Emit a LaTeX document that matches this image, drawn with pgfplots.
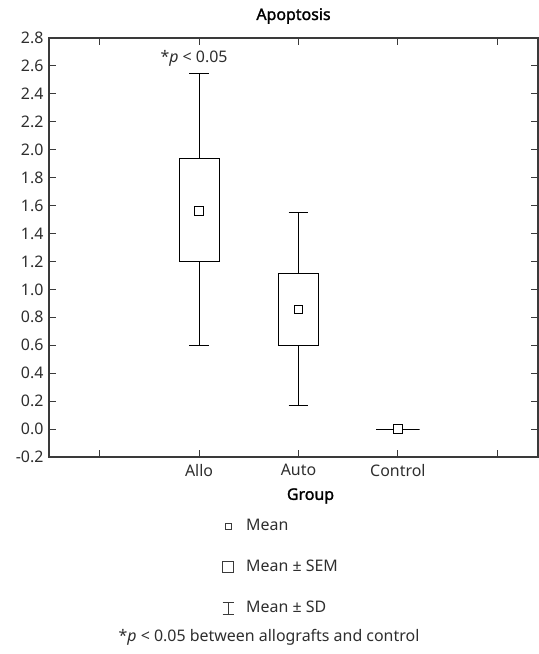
\documentclass[border=0pt]{standalone}
\usepackage{pgfplots}
\pgfplotsset{compat=1.18}
\usepgfplotslibrary{statistics}
\usepackage{fontspec}
\setmainfont{Noto Sans}[AutoFakeBold=1.6]
\definecolor{fr}{HTML}{3A3A3A}
\definecolor{tx}{HTML}{2E2E2E}
\begin{document}
\begin{tikzpicture}[x=1bp,y=1bp,font=\fontsize{16}{19}\selectfont]
\useasboundingbox (-49,-197) rectangle (489.5,457);
\begin{axis}[
  at={(0,0)}, anchor=south west,
  scale only axis, width=489bp, height=419bp,
  xmin=-0.51, xmax=4.41, ymin=-0.2, ymax=2.8,
  xtick={0,1,2,3,4}, xticklabels={,Allo,Auto,Control,},
  ytick={-0.2,0,0.2,0.4,0.6,0.8,1.0,1.2,1.4,1.6,1.8,2.0,2.2,2.4,2.6,2.8},
  yticklabel={\pgfmathprintnumber[fixed,fixed zerofill,precision=1]{\tick}},
  /pgf/number format/assume math mode=true,
  tick align=inside, major tick length=7bp,
  xtick pos=both, ytick pos=both,
  xticklabel pos=lower, yticklabel pos=left,
  axis line style={fr, line width=1.1pt},
  tick style={fr, line width=1pt},
  ticklabel style={text=tx},
  xticklabel style={yshift=-4bp},
  yticklabel style={xshift=-2bp},
  title={\textbf{Apoptosis}},
  title style={at={(0.5,1)}, anchor=center, yshift=16bp, text=black},
  xlabel={\textbf{Group}},
  xlabel style={at={(0.5,0)}, anchor=center, yshift=-39bp, xshift=17bp, text=black},
  clip=false,
  boxplot/draw direction=y,
  boxplot/draw/median/.code={},
  legend style={at={(0.354,-0.148)}, anchor=north west, draw=none, fill=none,
     inner sep=0pt, outer sep=0pt,
     nodes={inner sep=0pt, anchor=west, text height=11bp, text depth=3bp, text=tx},
     column sep=-1bp, row sep=27bp},
  legend cell align=left,
]
\addlegendimage{legend image code/.code={\path[draw=none,fill=none] (0,-6bp) rectangle (12bp,6bp);
   \draw[fr, line width=0.8pt, fill=none] (3bp,-3bp) rectangle (9bp,3bp);}}
\addlegendimage{legend image code/.code={\path[draw=none,fill=none] (0,-6bp) rectangle (12bp,6bp);
   \draw[fr, line width=0.8pt, fill=none] (0.5bp,-5.5bp) rectangle (11.5bp,5.5bp);}}
\addlegendimage{legend image code/.code={\path[draw=none,fill=none] (0,-6bp) rectangle (12bp,6bp);
   \draw[fr, line width=0.8pt] (0.5bp,-6bp) -- (11.5bp,-6bp) (6bp,-6bp) -- (6bp,6bp) (0.5bp,6bp) -- (11.5bp,6bp);}}
\legend{\hspace*{13bp}Mean, \hspace*{13bp}Mean ± SEM, \hspace*{13bp}Mean ± SD}
\addplot[forget plot, draw=black, line width=0.9pt, boxplot prepared={draw position=1,
  lower whisker=0.60, lower quartile=1.20, median=1.56, upper quartile=1.935, upper whisker=2.545,
  box extend=0.4, whisker extend=0.2}] coordinates {};
\addplot[forget plot, draw=black, line width=0.9pt, boxplot prepared={draw position=2,
  lower whisker=0.171, lower quartile=0.60, median=0.857, upper quartile=1.114, upper whisker=1.548,
  box extend=0.4, whisker extend=0.2}] coordinates {};
\addplot[forget plot, draw=black, line width=0.9pt, boxplot prepared={draw position=3,
  lower whisker=0, lower quartile=0, median=0, upper quartile=0, upper whisker=0,
  box extend=0.44, whisker extend=0.2}] coordinates {};
\addplot[forget plot, only marks, mark=square*, mark size=4.3bp,
  mark options={fill=white, draw=black, line width=0.9pt}] coordinates {(1,1.56) (2,0.857) (3,0)};
\node[text=tx, xshift=-5bp] at (axis cs:1,2.655) {*\textit{p} < 0.05};
\end{axis}
\node[text=tx] at (220,-180) {*\textit{p} < 0.05 between allografts and control};
\end{tikzpicture}
\end{document}
